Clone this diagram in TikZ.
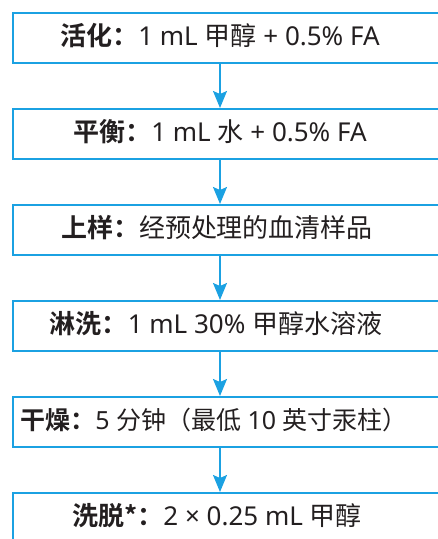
\documentclass[tikz,border=0pt]{standalone}
\usepackage{fontspec}
\setmainfont{Noto Sans}
\newfontfamily\cjk[BoldFont={Noto Sans CJK SC Bold}]{Noto Sans CJK SC}
\usetikzlibrary{arrows.meta}
\definecolor{flowblue}{HTML}{1BA1E2}
\definecolor{ink}{HTML}{231F20}
\newcommand\lab[1]{{\cjk\bfseries #1}}
\newcommand\zh[1]{{\cjk #1}}
\tikzset{
  stepbox/.style={draw=flowblue, line width=2pt, minimum width=440pt, minimum height=50pt, inner sep=0pt, anchor=north west},
  steptext/.style={anchor=base, text=ink, font=\fontsize{26}{26}\selectfont, inner sep=0pt},
  flowarr/.style={draw=flowblue, line width=1.7pt, -{Stealth[length=17pt, width=14pt, inset=3pt]}}
}
\begin{document}
\begin{tikzpicture}[x=1pt,y=1pt]
\useasboundingbox (0,0) rectangle (438,-539);
\clip (0,0) rectangle (438,-539);
\coordinate (axis) at (220,0);
\foreach \i in {1,...,6} {
  \node[stepbox] (b\i) at (11.5,{-12-96*(\i-1)}) {};
}
\node[steptext] (t1) at (220,-45) {\lab{活化：}1 mL \zh{甲醇} + 0.5\% FA};
\node[steptext] (t2) at (220,-141) {\lab{平衡：}1 mL \zh{水} + 0.5\% FA};
\node[steptext] (t3) at (217,-237) {\lab{上样：}\zh{经预处理的血清样品}};
\node[steptext] (t4) at (216,-333) {\lab{淋洗：}1 mL 30\% \zh{甲醇水溶液}};
\node[steptext, font=\fontsize{25}{25}\selectfont] (t5) at (214,-429) {\lab{干燥：}5 \zh{分钟（最低} 10 \zh{英寸汞柱）}};
\node[steptext] (t6) at (217,-525) {\lab{洗脱*：}2 × 0.25 mL \zh{甲醇}};
\foreach \i/\j in {1/2,2/3,3/4,4/5,5/6} {
  \draw[flowarr] (axis |- b\i.south) -- (axis |- b\j.north);
}
\end{tikzpicture}
\end{document}
